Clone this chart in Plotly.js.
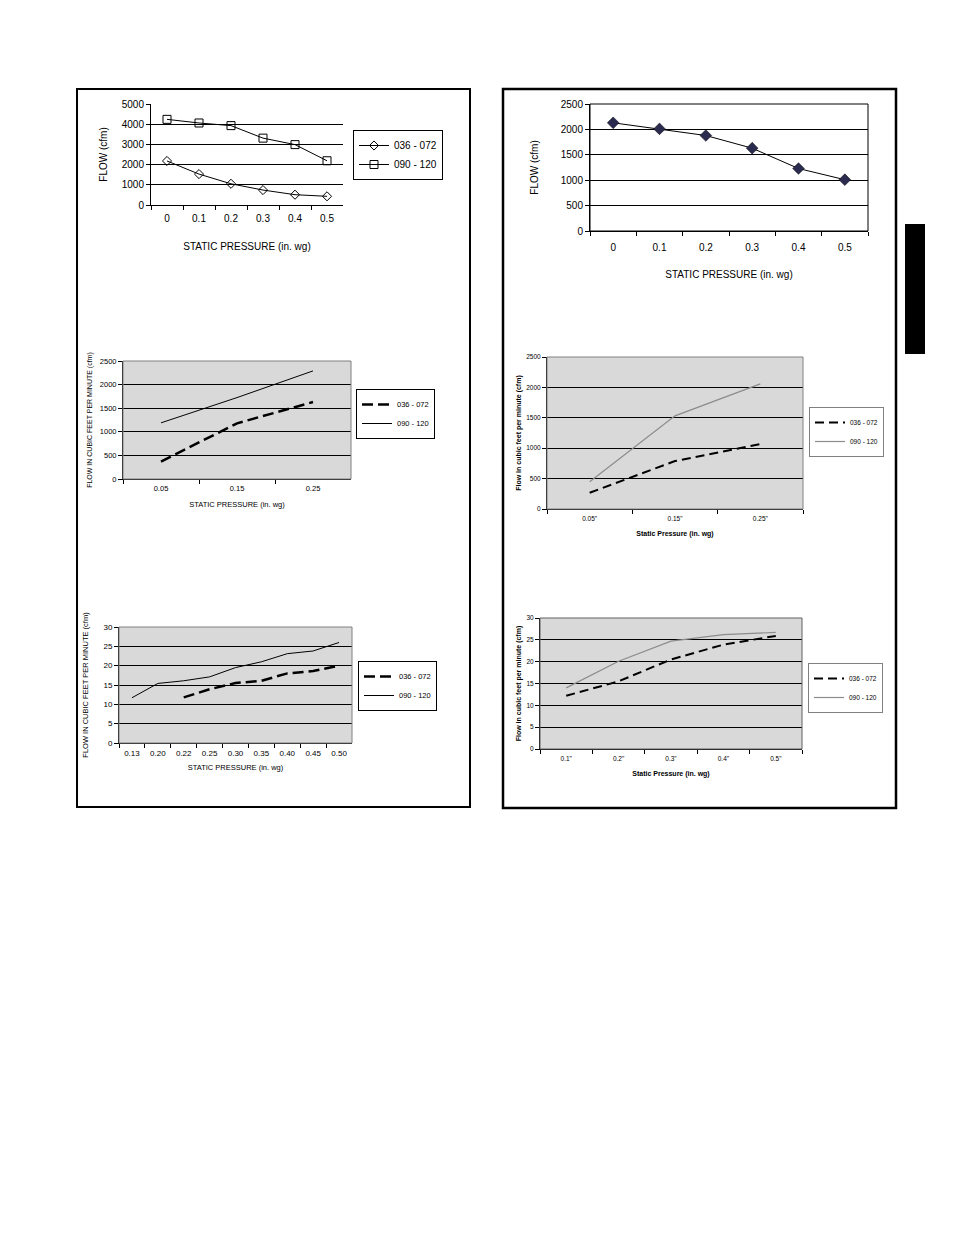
<!DOCTYPE html>
<html>
<head>
<meta charset="utf-8">
<script src="https://cdn.plot.ly/plotly-3.0.1.min.js"></script>
<style>
html,body{margin:0;padding:0;background:#fff;}
#chart{width:954px;height:1235px;}
</style>
</head>
<body>
<div id="chart"></div>
<script>
// ---------- DATA ----------
const seriesNames = ['036 - 072', '090 - 120'];

// Chart 1 (top left)
const pressure1 = ['0', '0.1', '0.2', '0.3', '0.4', '0.5'];
const flow1_036 = [2180, 1530, 1050, 740, 510, 430];
const flow1_090 = [4240, 4060, 3930, 3310, 2990, 2190];

// Chart 2 (top right)
const pressure2 = ['0', '0.1', '0.2', '0.3', '0.4', '0.5'];
const flow2 = [2130, 2010, 1880, 1630, 1230, 1010];

// Chart 3 (middle left)
const pressure3 = ['0.05', '0.15', '0.25'];
const flow3_036 = [370, 1180, 1630];
const flow3_090 = [1190, 1725, 2290];

// Chart 4 (middle right)
const pressure4 = ['0.05"', '0.15"', '0.25"'];
const flow4_036 = [268, 788, 1067];
const flow4_090 = [449, 1532, 2057];

// Chart 5 (bottom left)
const pressure5 = ['0.13', '0.20', '0.22', '0.25', '0.30', '0.35', '0.40', '0.45', '0.50'];
const flow5_036 = [null, null, 11.8, 13.9, 15.5, 16.1, 18.0, 18.6, 20.0];
const flow5_090 = [11.7, 15.4, 16.1, 17.1, 19.5, 21.0, 23.1, 23.8, 26.0];

// Chart 6 (bottom right)
const pressure6 = ['0.1"', '0.2"', '0.3"', '0.4"', '0.5"'];
const flow6_036 = [12.2, 15.5, 20.5, 23.9, 25.9];
const flow6_090 = [14.0, 20.1, 24.7, 26.2, 26.7];

// ---------- LAYOUT HELPERS ----------
const W = 954, H = 1235;
const px = x => x / W;
const py = y => 1 - y / H;
const FONT = 'Liberation Sans, Arial, Helvetica, sans-serif';

function xAxis(x0, x1, anchor, n, tickSize, labelGap, title, titleSize, standoff, bold) {
  return {
    domain: [px(x0), px(x1)], anchor: anchor, type: 'category',
    range: [-0.5, n - 0.5], showline: true, linecolor: '#000', linewidth: 1,
    ticks: 'outside', tickson: 'boundaries', ticklen: 4, tickcolor: '#000',
    ticklabelstandoff: labelGap,
    showgrid: false, zeroline: false, fixedrange: true,
    tickfont: {family: FONT, size: tickSize, color: '#000'},
    title: {text: bold ? '<b>' + title + '</b>' : title, standoff: standoff,
            font: {family: FONT, size: titleSize, color: '#000'}}
  };
}
function yAxis(y0, y1, anchor, max, dtick, tickSize, title, titleSize, standoff, bold) {
  return {
    domain: [py(y1), py(y0)], anchor: anchor, range: [0, max], dtick: dtick,
    showline: true, linecolor: '#000', linewidth: 1,
    ticks: 'outside', ticklen: 4, tickcolor: '#000',
    showgrid: true, gridcolor: '#000', gridwidth: 1, zeroline: false, fixedrange: true,
    tickfont: {family: FONT, size: tickSize, color: '#000'},
    title: {text: bold ? '<b>' + title + '</b>' : title, standoff: standoff,
            font: {family: FONT, size: titleSize, color: '#000'}}
  };
}
function legendBox(x, y, size, border) {
  return {
    x: px(x), y: py(y), xanchor: 'left', yanchor: 'top', xref: 'paper', yref: 'paper',
    bgcolor: '#fff', bordercolor: border, borderwidth: 1,
    font: {family: FONT, size: size, color: '#000'},
    itemwidth: 30, tracegroupgap: 0, traceorder: 'normal'
  };
}

// ---------- TRACES ----------
const traces = [
  // Chart 1
  {x: pressure1, y: flow1_036, name: seriesNames[0], xaxis: 'x', yaxis: 'y', legend: 'legend',
   mode: 'lines+markers', line: {color: '#000', width: 1},
   marker: {symbol: 'diamond-open', size: 7, color: '#000', line: {width: 1, color: '#000'}}},
  {x: pressure1, y: flow1_090, name: seriesNames[1], xaxis: 'x', yaxis: 'y', legend: 'legend',
   mode: 'lines+markers', line: {color: '#000', width: 1},
   marker: {symbol: 'square-open', size: 8, color: '#000', line: {width: 1, color: '#000'}}},
  // Chart 2
  {x: pressure2, y: flow2, name: 'FLOW', xaxis: 'x2', yaxis: 'y2', showlegend: false,
   mode: 'lines+markers', line: {color: '#000', width: 1},
   marker: {symbol: 'diamond', size: 9, color: '#2b2b4f', line: {width: 0.5, color: '#000'}}},
  // Chart 3
  {x: pressure3, y: flow3_036, name: seriesNames[0], xaxis: 'x3', yaxis: 'y3', legend: 'legend2',
   mode: 'lines', line: {color: '#000', width: 2.5, dash: '11px,5px'}},
  {x: pressure3, y: flow3_090, name: seriesNames[1], xaxis: 'x3', yaxis: 'y3', legend: 'legend2',
   mode: 'lines', line: {color: '#000', width: 1}},
  // Chart 4
  {x: pressure4, y: flow4_036, name: seriesNames[0], xaxis: 'x4', yaxis: 'y4', legend: 'legend3',
   mode: 'lines', line: {color: '#000', width: 2, dash: '9px,5px'}},
  {x: pressure4, y: flow4_090, name: seriesNames[1], xaxis: 'x4', yaxis: 'y4', legend: 'legend3',
   mode: 'lines', line: {color: '#8c8c8c', width: 1.2}},
  // Chart 5
  {x: pressure5, y: flow5_036, name: seriesNames[0], xaxis: 'x5', yaxis: 'y5', legend: 'legend4',
   mode: 'lines', line: {color: '#000', width: 2.5, dash: '11px,5px'}},
  {x: pressure5, y: flow5_090, name: seriesNames[1], xaxis: 'x5', yaxis: 'y5', legend: 'legend4',
   mode: 'lines', line: {color: '#000', width: 1}},
  // Chart 6
  {x: pressure6, y: flow6_036, name: seriesNames[0], xaxis: 'x6', yaxis: 'y6', legend: 'legend5',
   mode: 'lines', line: {color: '#000', width: 2, dash: '9px,5px'}},
  {x: pressure6, y: flow6_090, name: seriesNames[1], xaxis: 'x6', yaxis: 'y6', legend: 'legend5',
   mode: 'lines', line: {color: '#8c8c8c', width: 1.2}}
];

// ---------- SHAPES ----------
function plotBg(n, color) {
  return {type: 'rect', xref: 'x' + n + ' domain', yref: 'y' + n + ' domain',
          x0: 0, x1: 1, y0: 0, y1: 1, layer: 'below',
          fillcolor: color, line: {width: 0}};
}
function plotFrame(n, color) {
  return {type: 'rect', xref: 'x' + n + ' domain', yref: 'y' + n + ' domain',
          x0: 0, x1: 1, y0: 0, y1: 1, layer: 'above',
          fillcolor: 'rgba(0,0,0,0)', line: {width: 1, color: color}};
}
const shapes = [
  // panel frames
  {type: 'rect', xref: 'paper', yref: 'paper', x0: px(77), x1: px(470), y0: py(807), y1: py(89),
   line: {color: '#000', width: 2}, fillcolor: 'rgba(0,0,0,0)'},
  {type: 'rect', xref: 'paper', yref: 'paper', x0: px(503), x1: px(896), y0: py(808), y1: py(89),
   line: {color: '#000', width: 2.5}, fillcolor: 'rgba(0,0,0,0)'},
  // black side tab
  {type: 'rect', xref: 'paper', yref: 'paper', x0: px(905), x1: px(925), y0: py(354), y1: py(224),
   line: {width: 0}, fillcolor: '#000'},
  plotFrame(2, '#000'),
  plotBg(3, '#d9d9d9'), plotFrame(3, '#808080'),
  plotBg(4, '#d9d9d9'), plotFrame(4, '#808080'),
  plotBg(5, '#d9d9d9'), plotFrame(5, '#808080'),
  plotBg(6, '#d9d9d9'), plotFrame(6, '#606060')
];

const layout = {
  width: W, height: H, margin: {l: 0, r: 0, t: 0, b: 0},
  paper_bgcolor: '#fff', plot_bgcolor: 'rgba(0,0,0,0)',
  font: {family: FONT, color: '#000'},
  showlegend: true,
  xaxis:  xAxis(151, 343, 'y',  6, 10, 4, 'STATIC PRESSURE (in. wg)', 10, 19, false),
  yaxis:  yAxis(104, 205, 'x',  5000, 1000, 10, 'FLOW (cfm)', 10, 12, false),
  xaxis2: xAxis(590, 868, 'y2', 6, 10, 7, 'STATIC PRESSURE (in. wg)', 10, 18, false),
  yaxis2: yAxis(104, 231, 'x2', 2500, 500, 10, 'FLOW (cfm)', 10, 20, false),
  xaxis3: xAxis(123, 351, 'y3', 3, 7.5, 2, 'STATIC PRESSURE (in. wg)', 7.5, 9, false),
  yaxis3: yAxis(361, 479, 'x3', 2500, 500, 7.5, 'FLOW IN CUBIC FEET PER MINUTE (cfm)', 7, 6, false),
  xaxis4: xAxis(547, 803, 'y4', 3, 6.5, 3, 'Static Pressure (in. wg)', 7, 10, true),
  yaxis4: yAxis(357, 509, 'x4', 2500, 500, 6.5, 'Flow in cubic feet per minute (cfm)', 7, 3, true),
  xaxis5: xAxis(119, 352, 'y5', 9, 8, 2, 'STATIC PRESSURE (in. wg)', 7.5, 8, false),
  yaxis5: yAxis(627, 743, 'x5', 30, 5, 8, 'FLOW IN CUBIC FEET PER MINUTE (cfm)', 7.5, 13, false),
  xaxis6: xAxis(540, 802, 'y6', 5, 6.5, 3, 'Static Pressure (in. wg)', 7, 10, true),
  yaxis6: yAxis(618, 749, 'x6', 30, 5, 6.5, 'Flow in cubic feet per minute (cfm)', 7, 4, true),
  legend:  legendBox(353, 130, 10, '#000'),
  legend2: legendBox(356, 389, 7.5, '#000'),
  legend3: legendBox(809, 407, 6.5, '#808080'),
  legend4: legendBox(358, 661, 7.5, '#000'),
  legend5: legendBox(808, 663, 6.5, '#808080'),
  shapes: shapes
};

Plotly.newPlot('chart', traces, layout, {staticPlot: true, displayModeBar: false});
</script>
</body>
</html>
